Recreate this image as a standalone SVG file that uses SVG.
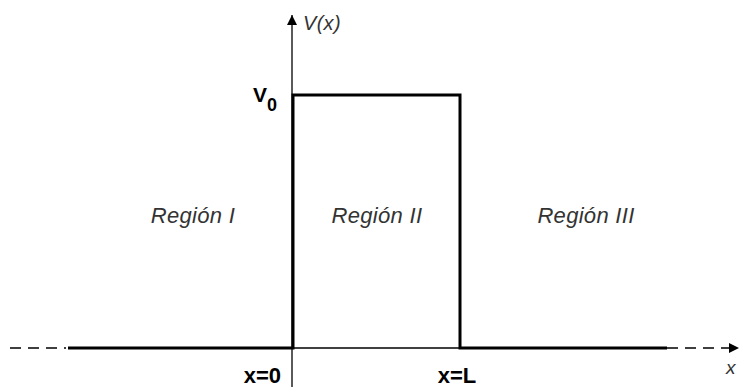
<svg xmlns="http://www.w3.org/2000/svg" width="739" height="387" viewBox="0 0 739 387">
<defs>
<marker id="arr" markerWidth="10" markerHeight="10" refX="10" refY="5" orient="auto" markerUnits="userSpaceOnUse">
<path d="M0,0 L10,5 L0,10 Z" fill="#000"/>
</marker>
</defs>
<style>
.thin{stroke:#000;stroke-width:1.3;fill:none}
.thick{stroke:#000;stroke-width:3;fill:none}
.dash{stroke:#000;stroke-width:1.3;fill:none;stroke-dasharray:11,7}
.reg{font-family:"Liberation Sans",Arial,sans-serif;font-style:italic;font-size:22px;fill:#333;letter-spacing:0.3px}
.lab{font-family:"Liberation Sans",Arial,sans-serif;font-weight:bold;font-size:22px;fill:#000}
</style>
<rect width="739" height="387" fill="#fff"/>
<g id="connectors">
<line id="y-axis" class="thin" x1="292" y1="387" x2="292" y2="15" marker-end="url(#arr)"/>
<line id="x-axis-mid" class="thin" x1="292" y1="348" x2="460" y2="348"/>
<line id="x-axis-left" class="dash" x1="10" y1="348" x2="66" y2="348"/>
<line id="x-axis-right" class="dash" x1="667" y1="348" x2="739" y2="348" marker-end="url(#arr)"/>
<polyline id="potential" class="thick" points="68,348 293,348 293,95 460,95 460,348 667,348"/>
</g>
<g id="labels">
<text id="vx" class="reg" x="303" y="30" style="font-size:20px">V(x)</text>
<text id="v0" class="lab" x="253" y="102" style="font-size:21px">V<tspan font-size="18" dy="9">0</tspan></text>
<text id="r1" class="reg" x="193" y="223" text-anchor="middle">Región I</text>
<text id="r2" class="reg" x="377" y="223" text-anchor="middle">Región II</text>
<text id="r3" class="reg" x="586" y="223" text-anchor="middle">Región III</text>
<text id="x0" class="lab" x="281" y="383" text-anchor="end">x=0</text>
<text id="xL" class="lab" x="457" y="383" text-anchor="middle">x=L</text>
<text id="xl" class="reg" x="726" y="374" style="font-size:19px;letter-spacing:0">x</text>
</g>
</svg>
